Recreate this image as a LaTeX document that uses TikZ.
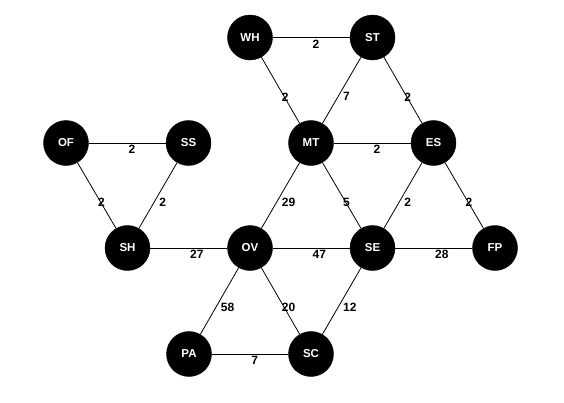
\documentclass[tikz,border=0pt]{standalone}
\usepackage{fontspec}
\setmainfont{Liberation Sans}
\begin{document}
\begin{tikzpicture}[x=1pt,y=-1pt,
  city/.style={circle,fill=black,draw=black,minimum size=45pt,inner sep=0pt,text=white,font=\bfseries\fontsize{11.5}{12}\selectfont},
  road/.style={draw=black,line width=0.8pt},
  wt/.style={anchor=north west,inner sep=0pt,font=\bfseries\fontsize{12}{12}\selectfont,xshift=1pt,yshift=-2pt}]
\useasboundingbox (0,0) rectangle (564,402);
\node[city] (WH) at (250,37.5) {WH};
\node[city] (ST) at (372.5,37.5) {ST};
\node[city] (OF) at (66,143) {OF};
\node[city] (SS) at (188.5,143) {SS};
\node[city] (MT) at (311,143) {MT};
\node[city] (ES) at (433.5,143) {ES};
\node[city] (SH) at (127.5,248) {SH};
\node[city] (OV) at (250,248) {OV};
\node[city] (SE) at (372.5,248) {SE};
\node[city] (FP) at (495,248) {FP};
\node[city] (PA) at (189,354) {PA};
\node[city] (SC) at (311,354) {SC};
\begin{scope}[on background layer/.style={}]
\end{scope}
\foreach \a/\b/\w in {WH/ST/2,WH/MT/2,ST/MT/7,ST/ES/2,OF/SS/2,MT/ES/2,OF/SH/2,SS/SH/2,MT/OV/29,MT/SE/5,ES/SE/2,ES/FP/2,SH/OV/27,OV/SE/47,SE/FP/28,OV/PA/58,OV/SC/20,SE/SC/12,PA/SC/7}
  \draw[road] (\a) -- node[wt] {\w} (\b);
\end{tikzpicture}
\end{document}
